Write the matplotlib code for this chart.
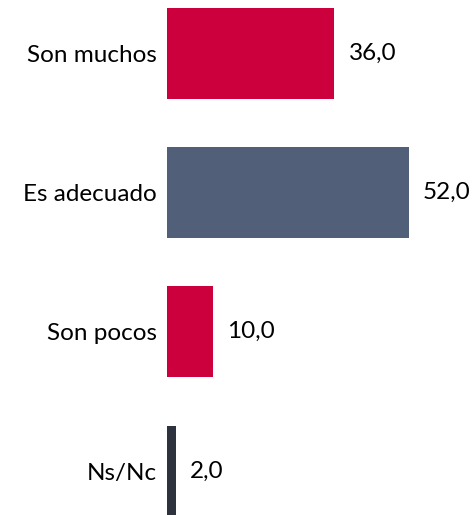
import matplotlib
matplotlib.use("Agg")
import matplotlib.pyplot as plt

categories = ["Son muchos", "Es adecuado", "Son pocos", "Ns/Nc"]
values = [36.0, 52.0, 10.0, 2.0]
colors = ["#cc003d", "#525f78", "#cc003d", "#2e323f"]

plt.rcParams['font.family'] = ['Lato', 'DejaVu Sans']

fig = plt.figure(figsize=(4.77, 5.15), dpi=100)
ax = fig.add_axes([0.35, 0.0, 0.5854, 1.0])

pos = list(range(len(categories)))
ax.barh(pos, values, height=0.654, color=colors)

for p, v in zip(pos, values):
    ax.text(v + 3.0, p, f"{v:.1f}".replace(".", ","), va="center", ha="left",
            fontsize=17.5, color="#000000")

ax.set_yticks(pos)
ax.set_yticklabels(categories, fontsize=17.5)
ax.tick_params(axis="y", length=0, pad=7)
ax.set_xticks([])
ax.set_xlim(0, 60)
ax.set_ylim(3.316, -0.384)
for s in ax.spines.values():
    s.set_visible(False)

fig.savefig("out.png", dpi=100)
